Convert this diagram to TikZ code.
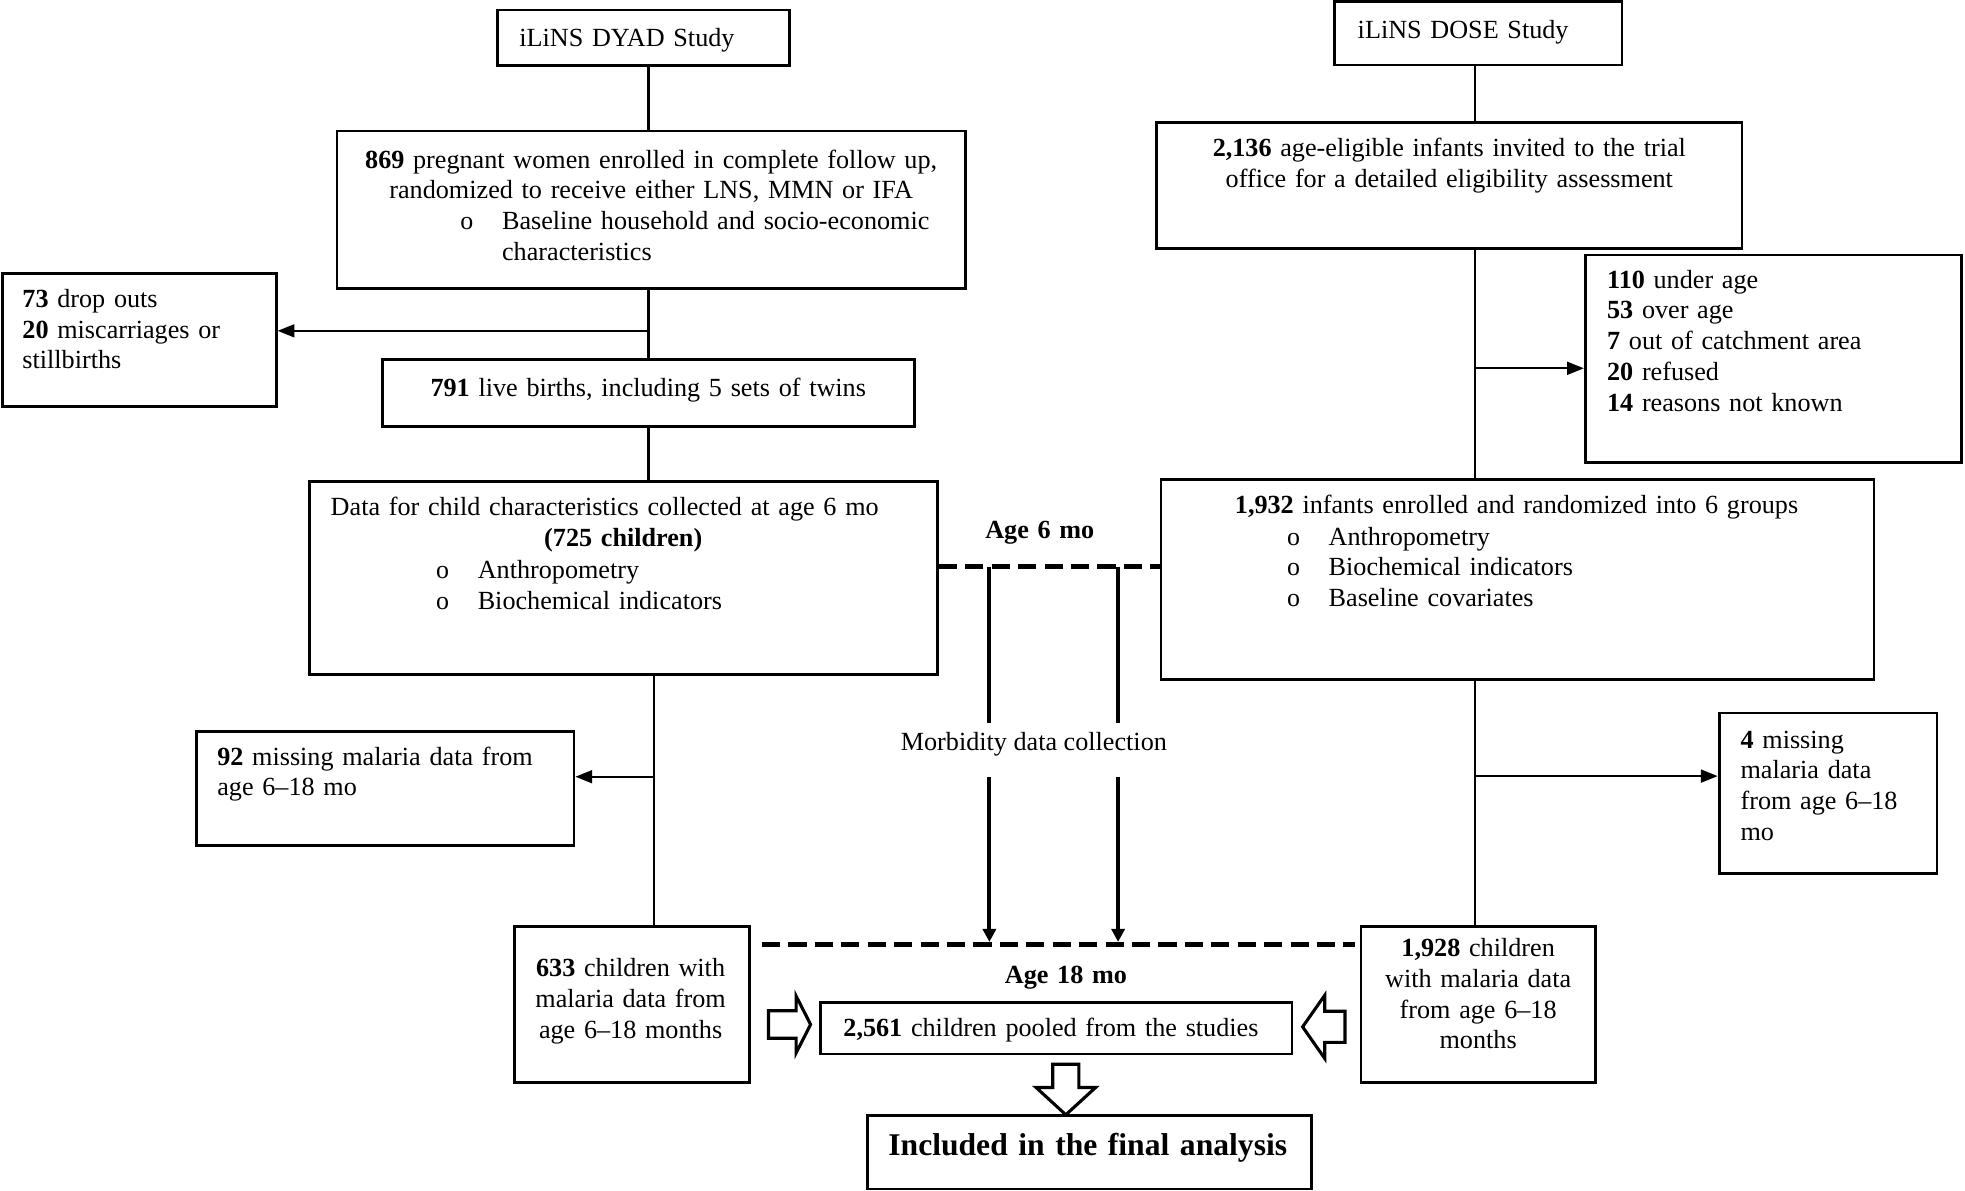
\documentclass[tikz,border=0pt]{standalone}
\usepackage{fontspec}
\setmainfont{Liberation Serif}
\usetikzlibrary{arrows.meta,fit,shapes.arrows}
\newcommand{\bul}{\makebox[0.565cm][l]{\fontsize{10}{11.85}\selectfont o}}

\begin{document}
\begin{tikzpicture}[x=0.017cm, y=-0.017cm,
        every node/.style={font=\fontsize{10.1}{11.85}\selectfont},
        box/.style={draw, line width=1.1pt, inner sep=0pt},
        txt/.style={inner sep=0pt, anchor=base west, text width=9cm, align=left},
        ctxt/.style={inner sep=0pt, anchor=base, text width=9cm, align=center},
        conn/.style={line width=0.8pt},
        arr/.style={line width=0.8pt, -{Triangle[length=6.5pt,width=5pt]}},
        agedash/.style={line width=2pt, dash pattern=on 7pt off 3.2pt},
        morbline/.style={line width=1.6pt},
        blk/.style={single arrow, draw, line width=1.2pt, fill=white, inner xsep=0pt,
            text height=0pt, text depth=0pt, minimum width=0pt, anchor=tail}]
        \useasboundingbox (0,0) rectangle (1568,950);

        % left column: DYAD
        \node[box, fit={(397,8) (630,52.4)}] (dyad) {};
        \node[txt] (dyad-t) at (414,37.2) {iLiNS DYAD Study};
        \node[box, fit={(268.9,104.5) (770.4,230.4)}] (women) {};
        \node[ctxt] (women-t) at (519.6,134.3) {\textbf{869} pregnant women enrolled in complete follow up,\\randomized to receive either LNS, MMN or IFA};
        \node[txt] (women-b) at (367,183) {\bul Baseline household and socio-economic\\\hspace*{0.565cm}characteristics};
        \node[box, fit={(2,218) (220.4,324.5)}] (drop) {};
        \node[txt] (drop-t) at (17.5,245.3) {\textbf{73} drop outs\\\textbf{20} miscarriages or\\stillbirths};
        \node[box, fit={(305,287) (729.6,340.5)}] (births) {};
        \node[ctxt] (births-t) at (517.3,316) {\textbf{791} live births, including 5 sets of twins};
        \node[box, fit={(246.8,384.4) (748,538)}] (data) {};
        \node[txt] (data-t) at (263.5,411) {Data for child characteristics collected at age 6 mo};
        \node[ctxt] (data-n) at (497.3,435.7) {\textbf{(725 children)}};
        \node[txt] (data-b) at (347.6,461.5) {\bul Anthropometry\\\bul Biochemical indicators};
        \node[box, fit={(156.7,583.8) (458,675)}] (miss92) {};
        \node[txt] (miss92-t) at (173,610.5) {\textbf{92} missing malaria data from\\age 6–18 mo};
        \node[box, fit={(410.6,739) (598,864)}] (c633) {};
        \node[ctxt] (c633-t) at (503.2,779.4) {\textbf{633} children with\\malaria data from\\age 6–18 months};

        % right column: DOSE
        \node[box, fit={(1065.2,1.3) (1294.3,51.9)}] (dose) {};
        \node[txt] (dose-t) at (1083,30.6) {iLiNS DOSE Study};
        \node[box, fit={(923,97.6) (1390,198)}] (invite) {};
        \node[ctxt] (invite-t) at (1156.5,125) {\textbf{2,136} age-eligible infants invited to the trial\\office for a detailed eligibility assessment};
        \node[box, fit={(1265,203.5) (1565.4,369.2)}] (excl) {};
        \node[txt] (excl-t) at (1282,230) {\textbf{110} under age\\\textbf{53} over age\\\textbf{7} out of catchment area\\\textbf{20} refused\\\textbf{14} reasons not known};
        \node[box, fit={(926.4,382.5) (1495.4,542)}] (enrol) {};
        \node[txt] (enrol-t) at (985,409.6) {\textbf{1,932} infants enrolled and randomized into 6 groups};
        \node[txt] (enrol-b) at (1026.6,434.9) {\bul Anthropometry\\\bul Biochemical indicators\\\bul Baseline covariates};
        \node[box, fit={(1371.8,569) (1545.7,697)}] (miss4) {};
        \node[txt] (miss4-t) at (1388.5,597) {\textbf{4} missing\\malaria data\\from age 6–18\\mo};
        \node[box, fit={(1086,739.5) (1273.3,864)}] (c1928) {};
        \node[ctxt] (c1928-t) at (1179.5,763.4) {\textbf{1,928} children\\with malaria data\\from age 6–18\\months};

        % pooled part
        \node[box, fit={(654.6,800) (1030.9,841)}] (pooled) {};
        \node[ctxt] (pooled-t) at (838.6,827.2) {\textbf{2,561} children pooled from the studies};
        \node[box, fit={(692,890.3) (1046.5,948.8)}] (final) {};
        \node[ctxt, font=\fontsize{12.2}{15}\selectfont\bfseries] (final-t) at (868,921.7) {Included in the final analysis};

        % time points
        \node[ctxt, font=\fontsize{10.1}{11.85}\selectfont\bfseries] (age6) at (829.7,429.6) {Age 6 mo};
        \node[ctxt, font=\fontsize{10.1}{11.85}\selectfont\bfseries] (age18) at (850.6,784.7) {Age 18 mo};
        \node[inner sep=0pt, anchor=base, text height=0.366cm, text depth=0.362cm] (morb) at (825,598.5) {Morbidity data collection};

        \coordinate (m1) at (789.5,452.2);
        \coordinate (m2) at (892.2,452.2);
        \coordinate (d18a) at (608,753.5);
        \coordinate (d18b) at (1081,753.5);

        % connectors left
        \coordinate (ljoin) at (517.5,264);
        \draw[conn] (dyad.south -| ljoin) -- (women.north -| ljoin);
        \draw[conn] (women.south -| ljoin) -- (births.north -| ljoin);
        \draw[arr] (ljoin) -- (ljoin -| drop.east);
        \draw[conn] (births.south -| ljoin) -- (data.north -| ljoin);
        \coordinate (ljoin2) at (521.5,619.8);
        \draw[conn] (data.south -| ljoin2) -- (c633.north -| ljoin2);
        \draw[arr] (ljoin2) -- (ljoin2 -| miss92.east);

        % connectors right
        \coordinate (rjoin) at (1177,293.9);
        \draw[conn] (dose.south -| rjoin) -- (invite.north -| rjoin);
        \draw[conn] (invite.south -| rjoin) -- (enrol.north -| rjoin);
        \draw[arr] (rjoin) -- (rjoin -| excl.west);
        \coordinate (rjoin2) at (1177,619.3);
        \draw[conn] (enrol.south -| rjoin2) -- (c1928.north -| rjoin2);
        \draw[arr] (rjoin2) -- (rjoin2 -| miss4.west);

        % age lines and morbidity
        \draw[agedash] (data.east |- m1) -- (enrol.west |- m1);
        \draw[agedash] (d18a) -- (d18b);
        \draw[morbline] (m1) -- (m1 |- morb.north);
        \draw[morbline] (m2) -- (m2 |- morb.north);
        \draw[morbline, -{Triangle[length=5pt,width=5pt]}, shorten >=0.9pt] (m1 |- morb.south) -- (m1 |- d18a);
        \draw[morbline, -{Triangle[length=5pt,width=5pt]}, shorten >=0.9pt] (m2 |- morb.south) -- (m2 |- d18a);

        % block arrows
        \node[blk, single arrow head extend=0.2cm, single arrow tip angle=126, inner ysep=0.165cm, minimum height=0.571cm] (inL) at (612,817.5) {};
        \node[blk, single arrow head extend=0.218cm, single arrow tip angle=110, inner ysep=0.19cm, minimum height=0.575cm, rotate=180] (inR) at (1074.5,819.4) {};
        \node[blk, single arrow head extend=0.226cm, single arrow tip angle=95, inner ysep=0.156cm, minimum height=0.685cm, rotate=-90] (down) at (850.5,848) {};
    \end{tikzpicture}
\end{document}
